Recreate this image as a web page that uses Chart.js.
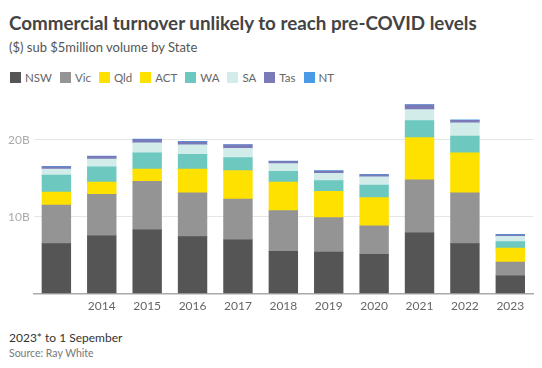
<!DOCTYPE html>
<html>
<head>
<meta charset="utf-8">
<script src="https://cdn.jsdelivr.net/npm/chart.js@4"></script>
<style>
  body { margin: 0; background: #fff; font-family: Lato, sans-serif; }
  #wrap { position: relative; width: 542px; height: 368px; overflow: hidden; }
  #title { position: absolute; left: 9px; top: 11px; font-size: 18.8px; font-weight: bold; color: #444; white-space: nowrap; }
  #subtitle { position: absolute; left: 9px; top: 39px; font-size: 13px; color: #555; }
  #legend { position: absolute; left: 10px; top: 71px; display: flex; align-items: center; font-size: 11.5px; color: #666; }
  #legend .item { display: flex; align-items: center; margin-right: 8px; }
  #legend .box { width: 11px; height: 11px; margin-right: 4px; }
  #chart-box { position: absolute; left: 0; top: 88px; width: 542px; height: 230px; }
  .note { position: absolute; left: 9px; }
</style>
</head>
<body>
<div id="wrap">
  <div id="title">Commercial turnover unlikely to reach pre-COVID levels</div>
  <div id="subtitle">($) sub $5million volume by State</div>
  <div id="legend"></div>
  <div id="chart-box"><canvas id="turnoverChart"></canvas></div>
  <div class="note" style="top:330px;font-size:12px;color:#333;">2023* to 1 Sepember</div>
  <div class="note" style="top:347px;font-size:10.5px;color:#777;">Source: Ray White</div>
</div>
<script>
// 연도 (첫 막대는 라벨 없음)
const years = ['2013', '2014', '2015', '2016', '2017', '2018', '2019', '2020', '2021', '2022', '2023'];

// 주별 거래액 ($B)
const nsw = [6.5, 7.5, 8.3, 7.4, 7.0, 5.5, 5.4, 5.1, 7.9, 6.5, 2.3];
const vic = [5.0, 5.4, 6.3, 5.7, 5.3, 5.3, 4.5, 3.7, 6.9, 6.6, 1.8];
const qld = [1.3, 1.2, 1.2, 2.6, 3.2, 3.2, 2.9, 3.2, 5.0, 4.7, 1.5];
const act = [0.4, 0.4, 0.4, 0.5, 0.5, 0.5, 0.5, 0.5, 0.5, 0.5, 0.3];
const wa  = [2.2, 2.0, 2.1, 1.9, 1.7, 1.4, 1.4, 1.6, 2.2, 2.2, 0.85];
const sa  = [0.8, 1.0, 1.3, 1.25, 1.2, 1.0, 0.95, 1.1, 1.45, 1.7, 0.7];
const tas = [0.3, 0.35, 0.45, 0.4, 0.45, 0.3, 0.3, 0.25, 0.6, 0.35, 0.2];
const nt  = [0.05, 0.05, 0.05, 0.05, 0.05, 0.05, 0.05, 0.05, 0.05, 0.05, 0.05];

const yTicks = [10, 20];

const series = [
  { label: 'NSW', data: nsw, color: '#555555' },
  { label: 'Vic', data: vic, color: '#949494' },
  { label: 'Qld', data: qld, color: '#FFE100' },
  { label: 'ACT', data: act, color: '#FFE100' },
  { label: 'WA',  data: wa,  color: '#6DC8BF' },
  { label: 'SA',  data: sa,  color: '#D2ECEA' },
  { label: 'Tas', data: tas, color: '#7A7AB8' },
  { label: 'NT',  data: nt,  color: '#4A9BE6' }
];

// 범례 (HTML)
const legendEl = document.getElementById('legend');
series.forEach(s => {
  const item = document.createElement('div');
  item.className = 'item';
  const box = document.createElement('span');
  box.className = 'box';
  box.style.background = s.color;
  const txt = document.createElement('span');
  txt.textContent = s.label;
  item.appendChild(box);
  item.appendChild(txt);
  legendEl.appendChild(item);
});

var ctx = document.getElementById('turnoverChart').getContext('2d');
var turnoverChart = new Chart(ctx, {
  type: 'bar',
  data: {
    labels: years,
    datasets: series.map(s => ({
      label: s.label,
      data: s.data,
      backgroundColor: s.color,
      borderWidth: 0,
      inflateAmount: 0.4,
      barPercentage: 0.63,
      categoryPercentage: 1
    }))
  },
  options: {
    responsive: true,
    maintainAspectRatio: false,
    animation: false,
    layout: { padding: { left: 4, right: 9, top: 6, bottom: 0 } },
    plugins: {
      legend: { display: false },
      tooltip: { enabled: false }
    },
    scales: {
      x: {
        stacked: true,
        grid: { display: false, drawTicks: false },
        border: { color: '#aaa', width: 1.5 },
        ticks: {
          color: '#666',
          font: { family: 'Lato', size: 12 },
          padding: 5,
          maxRotation: 0,
          autoSkip: false,
          callback: function(value, index) {
            return index === 0 ? '' : years[index];
          }
        }
      },
      y: {
        stacked: true,
        min: 0,
        max: 25.3,
        border: { display: false },
        grid: { color: '#e6e6e6', drawTicks: false },
        afterBuildTicks: function(axis) {
          axis.ticks = [0].concat(yTicks).map(v => ({ value: v }));
        },
        ticks: {
          color: '#aaa',
          font: { family: 'Lato', size: 12 },
          padding: 4,
          callback: function(value) {
            return value === 0 ? '' : value + 'B';
          }
        }
      }
    }
  }
});
</script>
</body>
</html>
